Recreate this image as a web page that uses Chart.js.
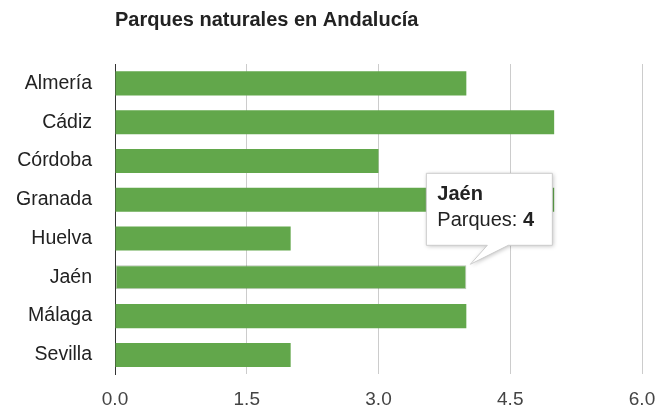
<!DOCTYPE html>
<html>
<head>
<meta charset="utf-8">
<script src="https://cdn.jsdelivr.net/npm/chart.js@4/dist/chart.umd.min.js"></script>
<style>
  html, body { margin: 0; padding: 0; background: #fff; }
  #wrap { width: 661px; height: 409px; }
</style>
</head>
<body>
<div id="wrap"><canvas id="chart"></canvas></div>
<script>
// Datos
var provincias = ['Almería', 'Cádiz', 'Córdoba', 'Granada', 'Huelva', 'Jaén', 'Málaga', 'Sevilla'];
var parques = [4, 5, 3, 5, 2, 4, 4, 2];
var ticksX = [0, 1.5, 3, 4.5, 6];
var titulo = 'Parques naturales en Andalucía';
var serieNombre = 'Parques';
var activo = 5; // Jaén, con el tooltip abierto

var fuente = '"Liberation Sans", Arial, sans-serif';
var verde = '#62a74b';

// Tooltip fijo al estilo de Google Charts
var tooltipFijo = {
    id: 'tooltipFijo',
    afterDraw: function (chart) {
        var el = chart.getDatasetMeta(0).data[activo];
        var ctx = chart.ctx;
        var tipX = el.x + 4;
        var tipY = el.y - el.height / 2 - 1;
        var w = 126, h = 72;
        var left = tipX - 44;
        var bottom = tipY - 19;
        var top = bottom - h;

        ctx.save();
        ctx.beginPath();
        ctx.moveTo(left, top);
        ctx.lineTo(left + w, top);
        ctx.lineTo(left + w, bottom);
        ctx.lineTo(tipX + 38, bottom);
        ctx.lineTo(tipX, tipY);
        ctx.lineTo(tipX + 17, bottom);
        ctx.lineTo(left, bottom);
        ctx.closePath();
        ctx.shadowColor = 'rgba(0,0,0,0.25)';
        ctx.shadowBlur = 4;
        ctx.shadowOffsetX = 1;
        ctx.shadowOffsetY = 1;
        ctx.fillStyle = '#fff';
        ctx.fill();
        ctx.shadowColor = 'transparent';
        ctx.strokeStyle = '#cccccc';
        ctx.lineWidth = 1;
        ctx.stroke();

        ctx.fillStyle = '#222';
        ctx.textBaseline = 'alphabetic';
        ctx.textAlign = 'left';
        ctx.font = 'bold 20px ' + fuente;
        ctx.fillText(provincias[activo], left + 11, top + 27);
        ctx.font = '20px ' + fuente;
        var etiqueta = serieNombre + ': ';
        ctx.fillText(etiqueta, left + 11, top + 53);
        var ancho = ctx.measureText(etiqueta).width;
        ctx.font = 'bold 20px ' + fuente;
        ctx.fillText(String(parques[activo]), left + 11 + ancho, top + 53);
        ctx.restore();
    }
};

var ctx = document.getElementById('chart').getContext('2d');
new Chart(ctx, {
    type: 'bar',
    data: {
        labels: provincias,
        datasets: [{
            label: serieNombre,
            data: parques,
            backgroundColor: verde,
            borderColor: provincias.map(function (p, i) { return i === activo ? 'rgba(60,90,50,0.35)' : verde; }),
            borderWidth: provincias.map(function (p, i) { return i === activo ? 1 : 0; }),
            borderSkipped: false,
            categoryPercentage: 1,
            barPercentage: 0.62
        }]
    },
    plugins: [tooltipFijo],
    options: {
        indexAxis: 'y',
        responsive: true,
        maintainAspectRatio: false,
        animation: false,
        events: [],
        layout: { padding: { left: 0, right: 19, top: 0, bottom: 0 } },
        plugins: {
            legend: { display: false },
            tooltip: { enabled: false },
            title: {
                display: true,
                text: titulo,
                align: 'start',
                fullSize: false,
                color: '#222',
                font: { family: fuente, size: 20, weight: 'bold' },
                padding: { top: 8, bottom: 32 }
            }
        },
        scales: {
            x: {
                min: 0,
                max: 6,
                afterBuildTicks: function (scale) {
                    scale.ticks = ticksX.map(function (v) { return { value: v }; });
                },
                afterFit: function (scale) {
                    scale.height = 31.5;
                    scale.paddingLeft = 0;
                    scale.paddingRight = 0;
                },
                ticks: {
                    color: '#444',
                    font: { family: fuente, size: 19 },
                    padding: 14,
                    maxRotation: 0,
                    callback: function (v) { return Number(v).toFixed(1); }
                },
                grid: {
                    color: function (c) { return c.tick && c.tick.value === 0 ? '#333' : '#cccccc'; },
                    drawTicks: false
                },
                border: { display: false }
            },
            y: {
                afterFit: function (scale) { scale.width = 115; },
                ticks: {
                    color: '#222',
                    font: { family: fuente, size: 19.5 },
                    padding: 23
                },
                grid: { display: false, drawTicks: false },
                border: { display: true, color: '#333', width: 1 }
            }
        }
    }
});
</script>
</body>
</html>
